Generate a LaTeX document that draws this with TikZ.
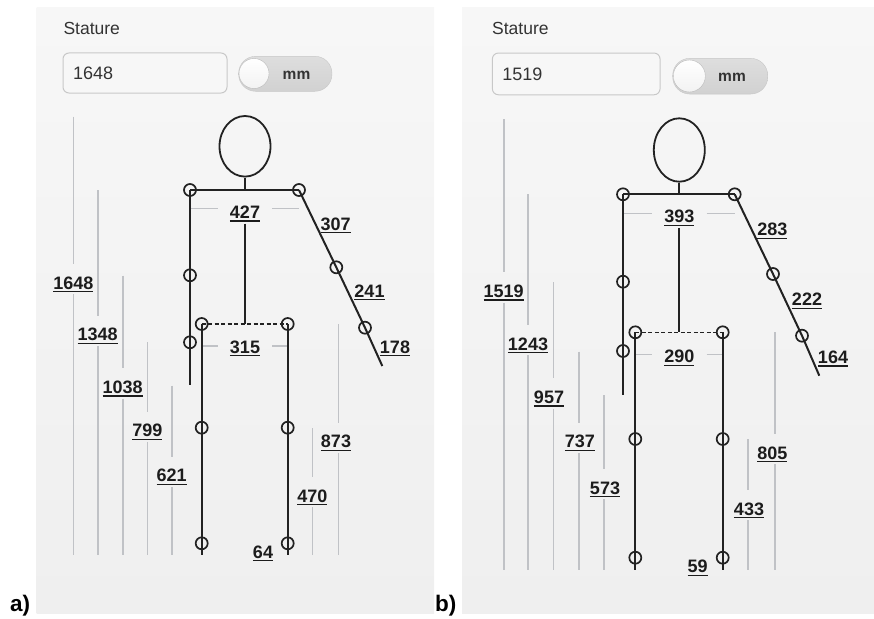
\documentclass[tikz,border=0pt]{standalone}
\usepackage{fontspec}
\setmainfont{Liberation Sans}
\usetikzlibrary{shapes.geometric}

\definecolor{bonecol}{RGB}{34,34,34}
\definecolor{dimcol}{RGB}{192,194,198}
\definecolor{lblcol}{RGB}{28,28,28}
\definecolor{panelhi}{RGB}{247,247,247}
\definecolor{panello}{RGB}{239,239,239}
\definecolor{fieldcol}{RGB}{200,200,200}
\definecolor{uitext}{RGB}{51,51,51}

\newsavebox\ulbox
\newcommand\ulnum[1]{\sbox\ulbox{#1}\rlap{\rule[-3.4pt]{\wd\ulbox}{1.6pt}}\usebox\ulbox}

\begin{document}
\begin{tikzpicture}[x=1pt,y=-1pt,
  bone/.style={draw=bonecol,line width=2pt},
  hipline/.style={draw=bonecol,line width=1.6pt,dash pattern=on 4pt off 2.5pt},
  joint/.style={circle,draw=bonecol,line width=1.7pt,inner sep=0pt,minimum size=12pt},
  headshape/.style={ellipse,draw=bonecol,line width=1.8pt,inner sep=0pt},
  dimline/.style={draw=dimcol,line width=1.6pt},
  dimlbl/.style={anchor=base,text=lblcol,font=\fontsize{18}{20}\selectfont\bfseries,inner xsep=12pt,inner ysep=2pt,text height=23pt,text depth=3pt},
  caption/.style={anchor=base west,inner sep=0pt,text=uitext,font=\fontsize{17.5}{20}\selectfont},
  field/.style={draw=fieldcol,fill=white!97!black,rounded corners=6pt,line width=1pt,align=left,inner xsep=10pt,inner ysep=0pt,text height=13pt,text depth=0pt,text=uitext,font=\fontsize{18}{20}\selectfont},
  track/.style={draw=black!22,top color=black!13,bottom color=black!18,rounded corners=17pt,inner sep=0pt,minimum height=35pt},
  knob/.style={circle,draw=black!27,top color=white,bottom color=black!5,inner sep=0pt,minimum size=30pt},
  unit/.style={anchor=base,inner sep=0pt,text=uitext,font=\fontsize{15.5}{18}\selectfont\bfseries},
  tag/.style={anchor=base west,inner sep=0pt,font=\fontsize{22.5}{24}\selectfont\bfseries}]
\useasboundingbox (0,0) rectangle (874,618);

% ---------- a) ----------
\fill[top color=panelhi,bottom color=panello] (36.7,8) rectangle (434,613.3);
\node[caption] (sta) at (63.3,35) {Stature};
\node[field,text width=144pt,minimum height=40pt] (fia) at (145,73) {1648};
\node[track,minimum width=93.3pt] (tga) at (285.3,73.8) {};
\node[knob] (kna) at (254,73.5) {};
\node[unit] (mma) at (296.5,79.7) {mm};

\node[dimlbl] (l427) at (245,218.3) {\ulnum{427}};
\node[dimlbl] (l315) at (245,353) {\ulnum{315}};
\node[dimlbl] (l307) at (335.7,230) {\ulnum{307}};
\node[dimlbl] (l241) at (369.5,297) {\ulnum{241}};
\node[dimlbl] (l178) at (395,353) {\ulnum{178}};
\node[dimlbl] (l64) at (263,558) {\ulnum{64}};
\node[dimlbl] (l1648) at (73.3,289) {\ulnum{1648}};
\node[dimlbl] (l1348) at (97.7,340.7) {\ulnum{1348}};
\node[dimlbl] (l1038) at (122.7,393.5) {\ulnum{1038}};
\node[dimlbl] (l799) at (147.3,436.7) {\ulnum{799}};
\node[dimlbl] (l621) at (171.7,481.7) {\ulnum{621}};
\node[dimlbl] (l873) at (336,447.7) {\ulnum{873}};
\node[dimlbl] (l470) at (312.3,502) {\ulnum{470}};

\coordinate (d427l) at (190,208.3);
\coordinate (d427r) at (299,208.3);
\coordinate (d315l) at (201.7,345.7);
\coordinate (d315r) at (287.7,345.7);
\draw[dimline] (d427l) -- (d427l -| l427.west) (d427r -| l427.east) -- (d427r);
\draw[dimline] (d315l) -- (d315l -| l315.west) (d315r -| l315.east) -- (d315r);

\coordinate (v1648t) at (73.3,116.7);  \coordinate (v1648b) at (73.3,555);
\coordinate (v1348t) at (97.7,190);    \coordinate (v1348b) at (97.7,555);
\coordinate (v1038t) at (122.7,275.7); \coordinate (v1038b) at (122.7,555);
\coordinate (v799t) at (147.3,342.3);  \coordinate (v799b) at (147.3,555);
\coordinate (v621t) at (171.7,385.5);  \coordinate (v621b) at (171.7,555);
\coordinate (v873t) at (338.3,324);    \coordinate (v873b) at (338.3,555);
\coordinate (v470t) at (312.3,428.3);  \coordinate (v470b) at (312.3,555);
\draw[dimline] (v1648t) -- (v1648t |- l1648.north) (v1648b |- l1648.south) -- (v1648b);
\draw[dimline] (v1348t) -- (v1348t |- l1348.north) (v1348b |- l1348.south) -- (v1348b);
\draw[dimline] (v1038t) -- (v1038t |- l1038.north) (v1038b |- l1038.south) -- (v1038b);
\draw[dimline] (v799t) -- (v799t |- l799.north) (v799b |- l799.south) -- (v799b);
\draw[dimline] (v621t) -- (v621t |- l621.north) (v621b |- l621.south) -- (v621b);
\draw[dimline] (v873t) -- (v873t |- l873.north) (v873b |- l873.south) -- (v873b);
\draw[dimline] (v470t) -- (v470t |- l470.north) (v470b |- l470.south) -- (v470b);

\node[headshape,minimum width=51pt,minimum height=60.6pt] (hda) at (245,146.3) {};
\coordinate (nka) at (245,190);
\coordinate (hpa) at (245,324);
\node[joint] (alsh) at (190,190) {};
\node[joint] (arsh) at (299,190) {};
\node[joint] (alel) at (190,275.3) {};
\node[joint] (alwr) at (190,342.3) {};
\node[joint] (arel) at (336.3,267.3) {};
\node[joint] (arwr) at (365,327.7) {};
\node[joint] (alhp) at (201.7,324) {};
\node[joint] (arhp) at (287.7,324) {};
\node[joint] (alkn) at (201.7,427.7) {};
\node[joint] (alan) at (201.7,543.3) {};
\node[joint] (arkn) at (287.7,427.7) {};
\node[joint] (aran) at (287.7,543.3) {};
\coordinate (alhd) at (190,384.7);
\coordinate (arhd) at (382.3,366);
\coordinate (alft) at (201.7,555);
\coordinate (arft) at (287.7,555);

\draw[bone] (hda.south) -- (nka);
\draw[bone] (alsh.center) -- (arsh.center);
\draw[bone] (alsh.center) -- (alel.center) -- (alwr.center) -- (alhd);
\draw[bone] (arsh.center) -- (arel.center) -- (arwr.center) -- (arhd);
\draw[bone] (l427.south) -- (hpa);
\draw[hipline] (alhp.center) -- (arhp.center);
\draw[bone] (alhp.center) -- (alkn.center) -- (alan.center) -- (alft);
\draw[bone] (arhp.center) -- (arkn.center) -- (aran.center) -- (arft);

\node[tag] (taga) at (10,611.7) {a)};

% ---------- b) ----------
\fill[top color=panelhi,bottom color=panello] (462,8) rectangle (874,613.3);
\node[caption] (stb) at (492,35) {Stature};
\node[field,text width=147.7pt,minimum height=41.7pt] (fib) at (576.2,73.9) {1519};
\node[track,minimum width=95pt,minimum height=35.7pt] (tgb) at (720.2,76.2) {};
\node[knob,minimum size=32pt] (knb) at (689.3,76) {};
\node[unit] (mmb) at (732,81.7) {mm};

\node[dimlbl] (l393) at (679.3,222.7) {\ulnum{393}};
\node[dimlbl] (l290) at (679.3,362.7) {\ulnum{290}};
\node[dimlbl] (l283) at (772.3,235.7) {\ulnum{283}};
\node[dimlbl] (l222) at (807,305.7) {\ulnum{222}};
\node[dimlbl] (l164) at (833,363.3) {\ulnum{164}};
\node[dimlbl] (l59) at (697.7,572.7) {\ulnum{59}};
\node[dimlbl] (l1519) at (503.7,297.3) {\ulnum{1519}};
\node[dimlbl] (l1243) at (528,350) {\ulnum{1243}};
\node[dimlbl] (l957) at (549,403.3) {\ulnum{957}};
\node[dimlbl] (l737) at (579.8,447.7) {\ulnum{737}};
\node[dimlbl] (l573) at (605,494) {\ulnum{573}};
\node[dimlbl] (l805) at (772.3,459) {\ulnum{805}};
\node[dimlbl] (l433) at (749,515) {\ulnum{433}};

\coordinate (d393l) at (623,213.3);
\coordinate (d393r) at (734.7,213.3);
\coordinate (d290l) at (635.3,354.3);
\coordinate (d290r) at (722.7,354.3);
\draw[dimline] (d393l) -- (d393l -| l393.west) (d393r -| l393.east) -- (d393r);
\draw[dimline] (d290l) -- (d290l -| l290.west) (d290r -| l290.east) -- (d290r);

\coordinate (v1519t) at (503.7,119.3); \coordinate (v1519b) at (503.7,570);
\coordinate (v1243t) at (528,194.3);   \coordinate (v1243b) at (528,570);
\coordinate (v957t) at (553.3,282.3);  \coordinate (v957b) at (553.3,570);
\coordinate (v737t) at (578.7,351.7);  \coordinate (v737b) at (578.7,570);
\coordinate (v573t) at (603.7,395);    \coordinate (v573b) at (603.7,570);
\coordinate (v805t) at (774.7,332.3);  \coordinate (v805b) at (774.7,570);
\coordinate (v433t) at (748,439);      \coordinate (v433b) at (748,570);
\draw[dimline] (v1519t) -- (v1519t |- l1519.north) (v1519b |- l1519.south) -- (v1519b);
\draw[dimline] (v1243t) -- (v1243t |- l1243.north) (v1243b |- l1243.south) -- (v1243b);
\draw[dimline] (v957t) -- (v957t |- l957.north) (v957b |- l957.south) -- (v957b);
\draw[dimline] (v737t) -- (v737t |- l737.north) (v737b |- l737.south) -- (v737b);
\draw[dimline] (v573t) -- (v573t |- l573.north) (v573b |- l573.south) -- (v573b);
\draw[dimline] (v805t) -- (v805t |- l805.north) (v805b |- l805.south) -- (v805b);
\draw[dimline] (v433t) -- (v433t |- l433.north) (v433b |- l433.south) -- (v433b);

\node[headshape,minimum width=51pt,minimum height=63.4pt] (hdb) at (679.3,150) {};
\coordinate (nkb) at (679.3,194.3);
\coordinate (hpb) at (679.3,332.3);
\node[joint] (blsh) at (623,194.3) {};
\node[joint] (brsh) at (734.7,194.3) {};
\node[joint] (blel) at (623,281.7) {};
\node[joint] (blwr) at (623,351) {};
\node[joint] (brel) at (773,274) {};
\node[joint] (brwr) at (802,335.7) {};
\node[joint] (blhp) at (635.3,332.3) {};
\node[joint] (brhp) at (722.7,332.3) {};
\node[joint] (blkn) at (635.3,439) {};
\node[joint] (blan) at (635.3,557.7) {};
\node[joint] (brkn) at (722.7,439) {};
\node[joint] (bran) at (722.7,557.7) {};
\coordinate (blhd) at (623,395);
\coordinate (brhd) at (819.3,375.7);
\coordinate (blft) at (635.3,570);
\coordinate (brft) at (722.7,570);

\draw[bone] (hdb.south) -- (nkb);
\draw[bone] (blsh.center) -- (brsh.center);
\draw[bone] (blsh.center) -- (blel.center) -- (blwr.center) -- (blhd);
\draw[bone] (brsh.center) -- (brel.center) -- (brwr.center) -- (brhd);
\draw[bone] (l393.south) -- (hpb);
\draw[hipline] (blhp.center) -- (brhp.center);
\draw[bone] (blhp.center) -- (blkn.center) -- (blan.center) -- (blft);
\draw[bone] (brhp.center) -- (brkn.center) -- (bran.center) -- (brft);

\node[tag] (tagb) at (435,611.7) {b)};
\end{tikzpicture}
\end{document}
